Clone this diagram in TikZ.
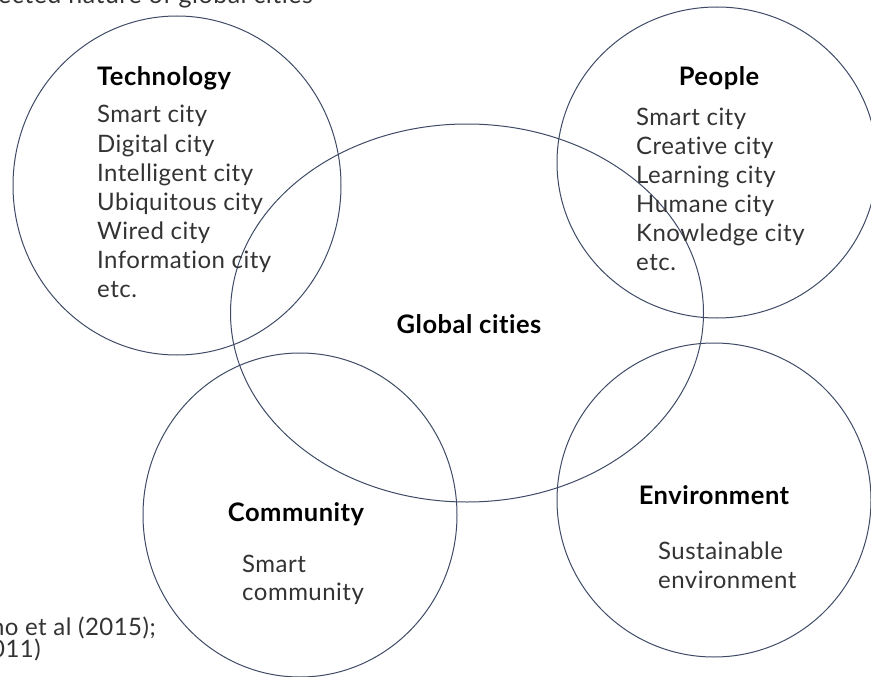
\documentclass[tikz,border=0pt]{standalone}
\usepackage{fontspec}
\setmainfont{Lato}[Ligatures=NoCommon,LetterSpace=2]
\begin{document}
\begin{tikzpicture}[x=1pt,y=-1pt,
  ring/.style={draw=ringcol,line width=1pt},
  item/.style={anchor=base west,inner sep=0pt,text=txtcol,font=\fontsize{24}{29}\selectfont},
  head/.style={anchor=base,inner sep=0pt,text=black,font=\fontsize{25.5}{29}\selectfont\bfseries}]
\definecolor{ringcol}{HTML}{3E4A66}
\definecolor{txtcol}{HTML}{333333}
\useasboundingbox (0,0) rectangle (871,677);
\clip (0,0) rectangle (871,677);
% circles
\draw[ring] (177,185.5) ellipse [x radius=164, y radius=169.5];
\draw[ring] (717,162.5) ellipse [x radius=160, y radius=155.5];
\draw[ring] (467,313) ellipse [x radius=236.5, y radius=189];
\draw[ring] (300,515) ellipse [x radius=157, y radius=162];
\draw[ring] (714,500) ellipse [x radius=157, y radius=157];
% clipped caption and source
\node[item,font=\fontsize{25}{29}\selectfont] (cap) at (-2,4) {ected nature of global cities};
\node[item,anchor=base east] (src1) at (156,635) {no et al (2015);};
\node[item,anchor=base east] (src2) at (41,657) {011)};
% Technology
\node[head,anchor=base west] (tech) at (97,85) {Technology};
\foreach \t [count=\i] in {Smart city,Digital city,Intelligent city,Ubiquitous city,Wired city,Information city,etc.}
  \node[item] (tech\i) at (97,{123+29*(\i-1)}) {\t};
% People
\node[head] (peop) at (719,85) {People};
\foreach \t [count=\i] in {Smart city,Creative city,Learning city,Humane city,Knowledge city,etc.}
  \node[item] (peop\i) at (636,{125+29*(\i-1)}) {\t};
% Global
\node[head] (glob) at (469,333) {Global cities};
% Community
\node[head] (comm) at (296,521) {Community};
\node[item] (comm1) at (242,572) {Smart};
\node[item] (comm2) at (242,600) {community};
% Environment
\node[head] (env) at (714,504) {Environment};
\node[item] (env1) at (658,559) {Sustainable};
\node[item] (env2) at (658,588) {environment};
\end{tikzpicture}
\end{document}
